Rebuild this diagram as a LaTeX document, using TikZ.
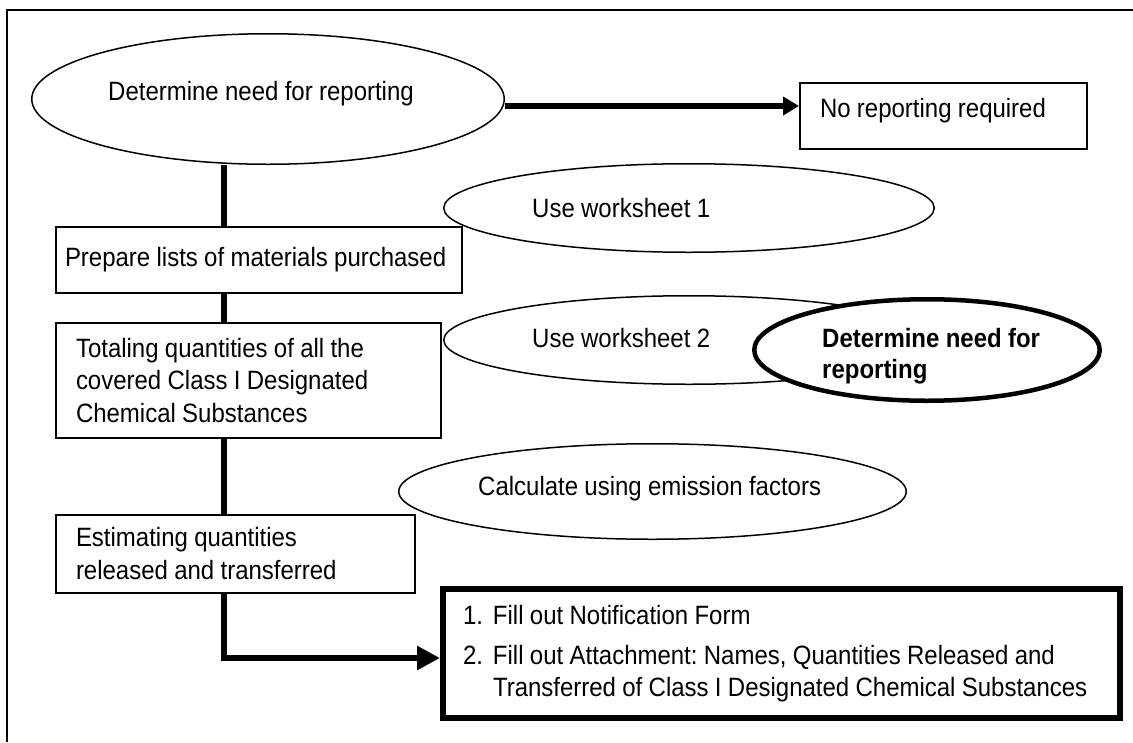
\documentclass[tikz,border=0pt]{standalone}
\usepackage{fontspec}
\setmainfont{Liberation Sans}[FakeStretch=0.905,WordSpace=0.95]
\usetikzlibrary{arrows.meta,shapes.geometric}
\frenchspacing
% one unbroken line set with the font's own interword space
\newcommand\oneline[1]{\mbox{\spaceskip=0pt\xspaceskip=0pt\relax#1}}
\begin{document}
\begin{tikzpicture}[x=1pt,y=-1pt,
  every node/.style={font=\fontsize{26.5}{32.5}\selectfont},
  oval/.style={draw, ellipse, line width=1.5pt, fill=white, inner sep=0pt},
  boldoval/.style={draw, ellipse, line width=4.5pt, fill=white, inner sep=0pt},
  box/.style={draw, rectangle, line width=1.8pt, fill=white, align=left,
              inner ysep=0pt, anchor=north west},
  finalbox/.style={draw, rectangle, line width=6pt, fill=white, align=left,
              inner ysep=0pt, inner xsep=20pt, anchor=north west,
              font=\fontsize{26.5}{32}\selectfont},
  lbl/.style={inner sep=0pt, anchor=base west},
  spineline/.style={line width=6pt, line join=miter},
  toparrow/.style={line width=5.5pt, -{Triangle[length=16pt,width=18pt]}},
  endarrow/.style={line width=6pt, line join=miter, -{Triangle[length=23pt,width=23pt]}}
]
\useasboundingbox (0,0) rectangle (1133,742);

% outer frame (top and left edges)
\draw[line width=2pt] (7,742) -- (7,10) -- (1133,10);

% start oval
\node[oval, minimum width=472.5pt, minimum height=130.5pt] (start) at (268,99) {};
\node[lbl] (startt) at (108,100) {Determine need for reporting};

% exit box
\node[box, inner xsep=20.1pt, text width=247pt, minimum height=66.2pt, text depth=15.3pt]
  (nrep) at (799,82) {\oneline{No reporting required}};

% side notes
\node[oval, minimum width=490.5pt, minimum height=88.5pt] (ws1) at (689,208) {};
\node[lbl] (ws1t) at (532,217) {Use worksheet 1};

\node[box, inner xsep=9.1pt, text width=388pt, minimum height=66.2pt]
  (prep) at (55,226) {\oneline{Prepare lists of materials purchased}};

\node[oval, minimum width=490.5pt, minimum height=88.5pt] (ws2) at (689,340) {};
\node[lbl] (ws2t) at (532,347) {Use worksheet 2};

\node[boldoval, minimum width=345.5pt, minimum height=101.5pt] (need) at (927,350) {};
\node[inner sep=0pt, anchor=north west, align=left,
      font=\fontsize{26.5}{31}\selectfont\bfseries] (needt) at (822,328)
  {\oneline{Determine need for}\\reporting};

\node[box, inner xsep=20.1pt, text width=345pt, minimum height=115.2pt]
  (tot) at (55,322) {\oneline{Totaling quantities of all the}\\\oneline{covered Class I Designated}\\\oneline{Chemical Substances}};

\node[oval, minimum width=507.5pt, minimum height=95.5pt] (calc) at (652.5,491.5) {};
\node[lbl] (calct) at (478,495) {Calculate using emission factors};

\node[box, inner xsep=20.1pt, text width=319pt, minimum height=78.2pt,
      font=\fontsize{26.5}{33}\selectfont]
  (est) at (55,514) {\oneline{Estimating quantities}\\\oneline{released and transferred}};

\node[finalbox, text width=637pt, minimum height=129pt] (fin) at (440,586)
  {\makebox[30pt][l]{1.}\oneline{Fill out Notification Form}\\[8pt]
   \makebox[30pt][l]{2.}\oneline{Fill out Attachment: Names, Quantities Released and}\\
   \hspace*{30pt}\oneline{Transferred of Class I Designated Chemical Substances}};

% connectors
\coordinate (spine) at (224,0);
\draw[toparrow] ([yshift=-7pt]start.east) -- ([yshift=-7pt]start.east -| nrep.west);
\draw[spineline] (start.south -| spine) -- (prep.north -| spine);
\draw[spineline] (prep.south -| spine) -- (tot.north -| spine);
\draw[spineline] (tot.south -| spine) -- (est.north -| spine);
\draw[endarrow] (est.south -| spine) |- ([yshift=-4.5pt]fin.west);
\end{tikzpicture}
\end{document}
